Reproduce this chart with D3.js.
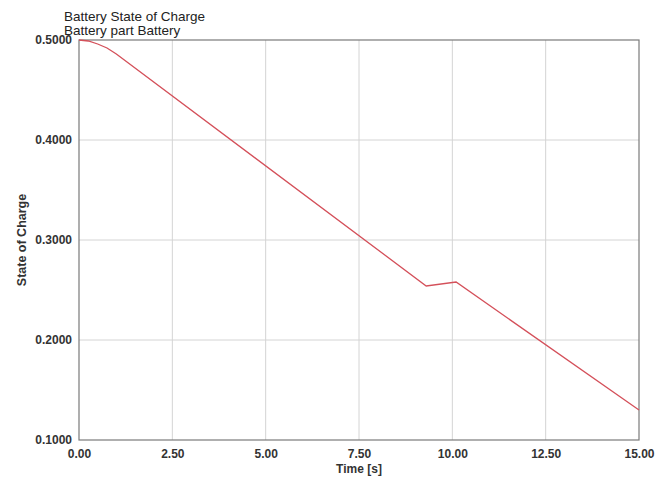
<!DOCTYPE html>
<html>
<head>
<meta charset="utf-8">
<script src="https://cdn.jsdelivr.net/npm/d3@7"></script>
<style>
  body { margin: 0; background: #fff; }
  svg text { font-family: "Liberation Sans", Arial, sans-serif; fill: #222; }
</style>
</head>
<body>
<div id="chart"></div>
<script>
const W = 672, H = 481;
const M = { top: 40, right: 33, bottom: 41, left: 79 };

// Series: battery state of charge over time
const times = [0, 0.25, 0.5, 0.75, 1.0, 9.3, 10.1, 15.0];
const soc   = [0.500, 0.499, 0.496, 0.492, 0.486, 0.254, 0.258, 0.130];

const xTicks = [0, 2.5, 5, 7.5, 10, 12.5, 15];
const yTicks = [0.1, 0.2, 0.3, 0.4, 0.5];

const svg = d3.select("#chart").append("svg")
  .attr("width", W).attr("height", H);

const x = d3.scaleLinear().domain([0, 15]).range([M.left, W - M.right]);
const y = d3.scaleLinear().domain([0.1, 0.5]).range([H - M.bottom, M.top]);

// Grid
svg.append("g")
  .selectAll("line").data(xTicks.slice(1, -1)).join("line")
  .attr("x1", d => x(d)).attr("x2", d => x(d))
  .attr("y1", M.top).attr("y2", H - M.bottom)
  .attr("stroke", "#d4d4d4").attr("stroke-width", 1);

svg.append("g")
  .selectAll("line").data(yTicks.slice(1, -1)).join("line")
  .attr("x1", M.left).attr("x2", W - M.right)
  .attr("y1", d => y(d)).attr("y2", d => y(d))
  .attr("stroke", "#d4d4d4").attr("stroke-width", 1);

// Frame
svg.append("rect")
  .attr("x", M.left).attr("y", M.top)
  .attr("width", W - M.left - M.right).attr("height", H - M.top - M.bottom)
  .attr("fill", "none").attr("stroke", "#7a7a7a").attr("stroke-width", 1.2);

// Axes
const xAxis = svg.append("g")
  .attr("transform", `translate(0,${H - M.bottom})`)
  .call(d3.axisBottom(x).tickValues(xTicks).tickSize(0).tickPadding(9).tickFormat(d3.format(".2f")));
xAxis.select(".domain").remove();
xAxis.selectAll("text").attr("font-size", 12).attr("font-weight", "bold").style("fill", "#333");

const yAxis = svg.append("g")
  .attr("transform", `translate(${M.left},0)`)
  .call(d3.axisLeft(y).tickValues(yTicks).tickSize(0).tickPadding(7).tickFormat(d3.format(".4f")));
yAxis.select(".domain").remove();
yAxis.selectAll("text").attr("font-size", 12).attr("font-weight", "bold").style("fill", "#333");

// Line
const pts = times.map((t, i) => [t, soc[i]]);
svg.append("path")
  .datum(pts)
  .attr("fill", "none")
  .attr("stroke", "#d4505a")
  .attr("stroke-width", 1.3)
  .attr("d", d3.line().x(d => x(d[0])).y(d => y(d[1])));

// Titles
svg.append("text").attr("x", 64).attr("y", 21).attr("font-size", 13.5).text("Battery State of Charge");
svg.append("text").attr("x", 64).attr("y", 35).attr("font-size", 13.5).text("Battery part Battery");

svg.append("text")
  .attr("x", (M.left + W - M.right) / 2).attr("y", 473)
  .attr("text-anchor", "middle").attr("font-size", 12).attr("font-weight", "bold")
  .style("fill", "#333")
  .text("Time [s]");

svg.append("text")
  .attr("transform", `translate(26,${(M.top + H - M.bottom) / 2}) rotate(-90)`)
  .attr("text-anchor", "middle").attr("font-size", 12.5).attr("font-weight", "bold")
  .style("fill", "#333")
  .text("State of Charge");
</script>
</body>
</html>
